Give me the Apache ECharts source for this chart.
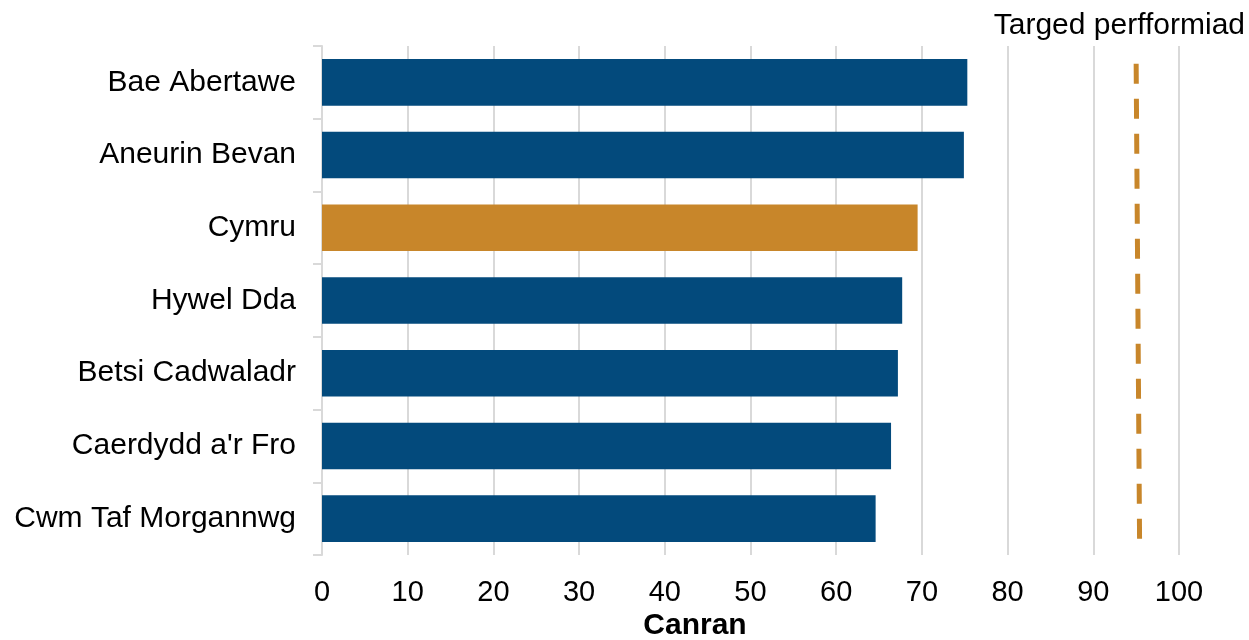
<!DOCTYPE html>
<html><head><meta charset="utf-8">
<script src="https://cdn.jsdelivr.net/npm/echarts@6/dist/echarts.min.js"></script>
<style>html,body{margin:0;padding:0;background:#fff}#c{width:1249px;height:640px}</style>
</head><body><div id="c"></div>
<script>
const categories = ["Bae Abertawe","Aneurin Bevan","Cymru","Hywel Dda","Betsi Cadwaladr","Caerdydd a'r Fro","Cwm Taf Morgannwg"];
const values = [75.3, 74.9, 69.5, 67.7, 67.2, 66.4, 64.6];
const highlight = "Cymru";
const xTicks = [0,10,20,30,40,50,60,70,80,90,100];
const targetX = [95.0, 95.4];
const targetY = [0.965, 0.027];
const targetLabel = "Targed perfformiad";
const xAxisName = "Canran";

const BLUE = "#034a7c", ORANGE = "#c8862a";
const font = "'Liberation Sans', Arial, sans-serif";
const chart = echarts.init(document.getElementById('c'));
chart.setOption({
  animation: false,
  textStyle: {fontFamily: font},
  title: [
    {text: targetLabel, right: 4, top: 11, padding: 0, textStyle: {fontFamily: font, fontSize: 30, fontWeight: 'normal', color: '#000'}},
    {text: xAxisName, left: 695, top: 611, padding: 0, textAlign: 'center', textStyle: {fontFamily: font, fontSize: 30, fontWeight: 'bold', color: '#000'}}
  ],
  grid: {left: 322, right: 70, top: 46, bottom: 85, containLabel: false},
  xAxis: [{
    type: 'value', min: xTicks[0], max: xTicks[xTicks.length-1], interval: 10,
    axisLine: {show: false}, axisTick: {show: false},
    splitLine: {lineStyle: {color: '#d9d9d9', width: 2}},
    axisLabel: {fontSize: 29, color: '#000', margin: 23, fontFamily: font}
  }],
  yAxis: [{
    type: 'category', data: categories, inverse: true,
    axisLine: {show: true, lineStyle: {color: '#d9d9d9', width: 2}},
    axisTick: {show: true, length: 9, lineStyle: {color: '#d9d9d9', width: 2}},
    axisLabel: {fontSize: 30, color: '#000', margin: 26, fontFamily: font}
  }, {
    type: 'value', min: 0, max: 1, show: false
  }],
  series: [{
    type: 'bar', barCategoryGap: '36%',
    data: values.map((v,i) => ({value: v, itemStyle: {color: categories[i] === highlight ? ORANGE : BLUE}})),
    z: 3
  }, {
    type: 'line', xAxisIndex: 0, yAxisIndex: 1, symbol: 'none',
    data: targetX.map((x,i) => [x, targetY[i]]),
    lineStyle: {color: ORANGE, width: 5, type: [20, 15], cap: 'butt'},
    z: 4
  }]
});
</script></body></html>
